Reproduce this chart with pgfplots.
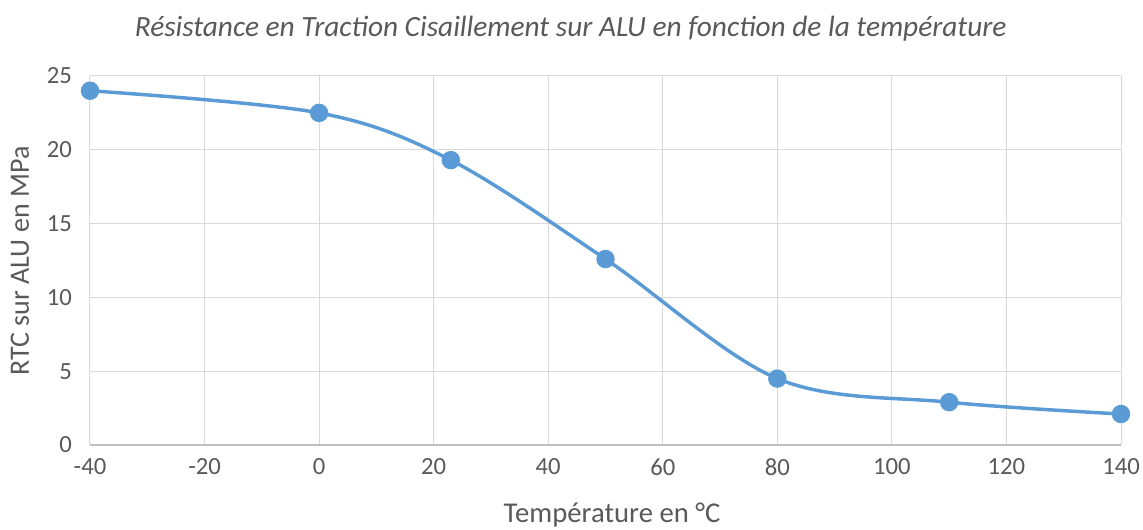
\documentclass[border=0pt]{standalone}
\usepackage{pgfplots}
\pgfplotsset{compat=1.18}
\usepackage{fontspec}
\setmainfont{Carlito}
\definecolor{txt}{HTML}{595959}
\definecolor{grd}{HTML}{D9D9D9}
\definecolor{axl}{HTML}{BFBFBF}
\definecolor{ser}{HTML}{5B9BD5}
\begin{document}
\begin{tikzpicture}
\useasboundingbox (0,0) rectangle (857.25pt,396.75pt);
\begin{axis}[
  at={(67.5pt,63pt)}, anchor=south west,
  scale only axis, width=773.25pt, height=276.75pt,
  xmin=-40, xmax=140, ymin=0, ymax=25,
  xtick={-40,-20,...,140}, ytick={0,5,...,25},
  grid=major, major grid style={grd, line width=0.75pt},
  axis line style={draw=none},
  tick style={draw=none},
  ticklabel style={font=\fontsize{18.5}{22}\selectfont, text=txt},
  /pgf/number format/assume math mode=true,
  xticklabel style={yshift=-6.5pt},
  yticklabel style={xshift=-10pt},
  clip=false,
]
\draw[axl, line width=0.9pt] (axis cs:-40,0) -- (axis cs:140,0);
\addplot[ser, line width=2.6pt, smooth, tension=0.55, mark=*, mark size=5.6pt, mark options={fill=ser, draw=none}]
coordinates {(-40,24) (0,22.5) (23,19.3) (50,12.6) (80,4.5) (110,2.9) (140,2.1)};
\end{axis}
\node[text=txt, font=\fontsize{22}{26}\selectfont\itshape] at (428pt,375pt) {Résistance en Traction Cisaillement sur ALU en fonction de la température};
\node[text=txt, font=\fontsize{21.5}{25}\selectfont] at (459pt,10.5pt) {Température en °C};
\node[text=txt, font=\fontsize{21}{25}\selectfont, rotate=90] at (15pt,201pt) {RTC sur ALU en MPa};
\end{tikzpicture}
\end{document}
